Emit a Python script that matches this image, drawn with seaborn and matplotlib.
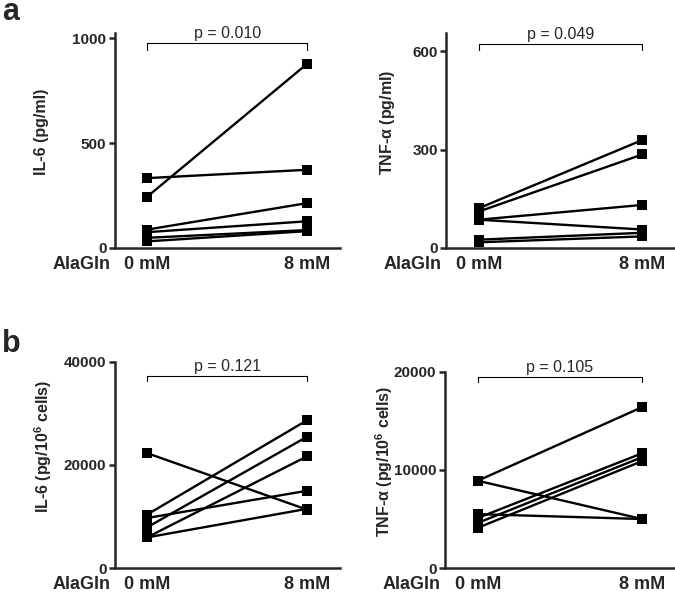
import matplotlib
matplotlib.use("Agg")
import matplotlib.pyplot as plt
import seaborn as sb
import pandas as pd

# AlaGln conditions on the x axis
conditions = ["0 mM", "8 mM"]

# a: concentrations in supernatant (one line per donor)
il6_0mM = [333, 243, 87, 75, 48, 31]
il6_8mM = [373, 880, 214, 127, 85, 80]
tnf_0mM = [121, 111, 86, 86, 25, 17]
tnf_8mM = [329, 285, 131, 56, 46, 35]

# b: normalised per 10^6 cells
il6_cells_0mM = [22300, 10350, 9700, 7880, 5940, 5940]
il6_cells_8mM = [11300, 28700, 15000, 25500, 21700, 11500]
tnf_cells_0mM = [8900, 8900, 5500, 5100, 4600, 4100]
tnf_cells_8mM = [16400, 5000, 5000, 11700, 11300, 10900]

p_values = ["p = 0.010", "p = 0.049", "p = 0.121", "p = 0.105"]

sb.set_style("ticks")
plt.rcParams["font.family"] = ["Liberation Sans", "DejaVu Sans"]
plt.rcParams["mathtext.fontset"] = "custom"
plt.rcParams["mathtext.rm"] = "Liberation Sans:bold"
plt.rcParams["mathtext.it"] = "Liberation Serif:italic"
plt.rcParams["mathtext.default"] = "rm"


def paired_panel(ax, before, after, ymax, ticks, ylabel, ptext, bracket, label_xy):
    n = len(before)
    df = pd.DataFrame({
        "donor": list(range(n)) * 2,
        "AlaGln": [conditions[0]] * n + [conditions[1]] * n,
        "value": before + after,
    })
    sb.lineplot(data=df, x="AlaGln", y="value", units="donor", estimator=None,
                color="black", marker="s", markersize=6.5, markeredgewidth=0,
                linewidth=1.7, ax=ax)
    ax.set_xlim(-0.2, 1.2)
    ax.set_ylim(0, ymax)
    ax.set_yticks(ticks)
    ax.set_yticklabels([str(t) for t in ticks], fontsize=11, fontweight="bold")
    ax.set_xticks([0, 1])
    ax.set_xticklabels(conditions, fontsize=13, fontweight="bold")
    ax.tick_params(axis="x", length=0, pad=6)
    ax.tick_params(axis="y", length=4, width=1.8, pad=2)
    sb.despine(ax=ax)
    for s in ["left", "bottom"]:
        ax.spines[s].set_linewidth(1.8)
    ax.set_xlabel("")
    ax.set_ylabel(ylabel, fontsize=11.5, fontweight="bold")
    ax.yaxis.set_label_coords(*label_xy)
    ax.yaxis.label.set_verticalalignment("center")
    # significance bracket
    top, tip = bracket
    ax.plot([0, 0, 1, 1], [tip, top, top, tip], color="black", lw=0.8, clip_on=False)
    ax.annotate(ptext, xy=(0.5, top), xytext=(0, 1.5), textcoords="offset points",
                ha="center", va="bottom", fontsize=11.5)
    ax.annotate("AlaGln", xy=(-0.02, 0), xycoords="axes fraction",
                xytext=(0, -6), textcoords="offset points",
                ha="right", va="top", fontsize=13, fontweight="bold")


fig = plt.figure(figsize=(6.75, 5.93), dpi=100)
ax1 = fig.add_axes([0.170, 0.582, 0.333, 0.362])
ax2 = fig.add_axes([0.661, 0.582, 0.339, 0.362])
ax3 = fig.add_axes([0.170, 0.042, 0.333, 0.348])
ax4 = fig.add_axes([0.659, 0.042, 0.341, 0.331])

paired_panel(ax1, il6_0mM, il6_8mM, 1025, [0, 500, 1000], "IL-6 (pg/ml)",
             p_values[0], (976, 945), (-0.324, 0.54))
paired_panel(ax2, tnf_0mM, tnf_8mM, 655, [0, 300, 600], r"TNF-$\alpha$ (pg/ml)",
             p_values[1], (622, 604), (-0.255, 0.585))
paired_panel(ax3, il6_cells_0mM, il6_cells_8mM, 40000, [0, 20000, 40000],
             r"IL-6 (pg/10$^{6}$ cells)", p_values[2], (37300, 36200), (-0.318, 0.59))
paired_panel(ax4, tnf_cells_0mM, tnf_cells_8mM, 20000, [0, 10000, 20000],
             r"TNF-$\alpha$ (pg/10$^{6}$ cells)", p_values[3], (19500, 19000), (-0.262, 0.545))

fig.text(0.003, 1 - 20 / 593, "a", fontsize=22, fontweight="bold", va="baseline")
fig.text(0.003, 1 - 352 / 593, "b", fontsize=22, fontweight="bold", va="baseline")

fig.savefig("out.png", dpi=100)
